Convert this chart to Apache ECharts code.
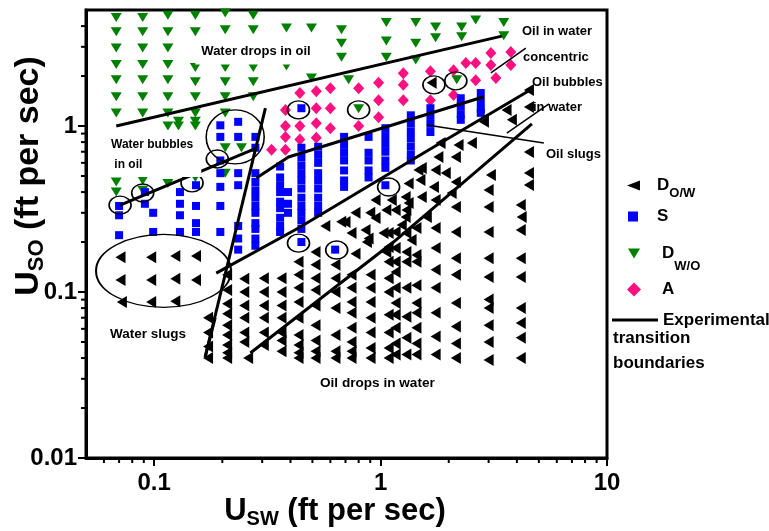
<!DOCTYPE html>
<html>
<head>
<meta charset="utf-8">
<script src="https://cdn.jsdelivr.net/npm/echarts@6/dist/echarts.min.js"></script>
<style>
html,body{margin:0;padding:0;background:#fff;}
#chart{width:769px;height:531px;}
</style>
</head>
<body>
<div id="chart"></div>
<script>
// Flow-pattern map: superficial water velocity (USW) vs superficial oil velocity (USO), ft/s

const X_MIN = 0.05, X_MAX = 10;
const Y_MIN = 0.01, Y_MAX = 5;

// Minor tick positions on each log axis
const xMinorTicks = [0.06, 0.07, 0.08, 0.09, 0.2, 0.3, 0.4, 0.5, 0.6, 0.7, 0.8, 0.9, 2, 3, 4, 5, 6, 7, 8, 9];
const yMinorTicks = [0.02, 0.03, 0.04, 0.05, 0.06, 0.07, 0.08, 0.09, 0.2, 0.3, 0.4, 0.5, 0.6, 0.7, 0.8, 0.9, 2, 3, 4];

// D_O/W : oil drops in water  [USW, USO]
const dowPoints = [
  [0.071,0.162],[0.097,0.162],[0.124,0.165],[0.153,0.165],
  [0.071,0.118],[0.097,0.118],[0.124,0.12],[0.153,0.118],
  [0.072,0.087],[0.097,0.087],[0.124,0.088],
  [0.173,0.07],[0.173,0.057],[0.173,0.047],[0.173,0.04],
  [0.21,0.127],[0.21,0.103],[0.21,0.085],[0.21,0.074],[0.21,0.063],[0.21,0.055],[0.21,0.048],[0.21,0.043],[0.21,0.04],
  [0.25,0.12],[0.25,0.1],[0.25,0.083],[0.25,0.07],[0.25,0.057],[0.25,0.05],
  [0.26,0.04],
  [0.305,0.121],[0.305,0.1],[0.305,0.083],[0.305,0.07],[0.305,0.057],[0.305,0.048],
  [0.365,0.121],[0.365,0.1],[0.365,0.083],[0.365,0.07],[0.365,0.057],[0.365,0.051],[0.365,0.044],
  [0.434,0.152],[0.434,0.127],[0.434,0.106],[0.434,0.087],[0.434,0.07],[0.434,0.055],[0.434,0.048],[0.434,0.043],[0.434,0.04],
  [0.516,0.174],[0.516,0.146],[0.516,0.121],[0.516,0.103],[0.516,0.083],[0.516,0.063],[0.516,0.051],[0.516,0.044],[0.516,0.04],
  [0.632,0.146],[0.632,0.121],[0.632,0.1],[0.632,0.08],[0.632,0.055],[0.632,0.044],[0.632,0.04],
  [0.744,0.127],[0.744,0.106],[0.744,0.087],[0.744,0.075],[0.744,0.061],[0.744,0.05],[0.744,0.044],[0.744,0.04],
  [0.903,0.127],[0.903,0.106],[0.903,0.087],[0.903,0.07],[0.903,0.057],[0.903,0.046],[0.903,0.04],
  [1.085,0.187],[1.085,0.152],[1.085,0.121],[1.085,0.1],[1.085,0.073],[1.085,0.057],[1.085,0.046],[1.085,0.04],
  [1.165,0.312],[1.165,0.23],[1.165,0.184],[1.165,0.152],[1.165,0.132],[1.165,0.106],[1.165,0.086],[1.165,0.073],[1.165,0.061],[1.165,0.049],[1.165,0.042],
  [1.3,0.312],[1.3,0.227],[1.3,0.174],[1.3,0.152],[1.3,0.106],[1.3,0.071],[1.3,0.053],[1.3,0.042],
  [1.44,0.243],[1.44,0.167],[1.44,0.152],[1.44,0.11],[1.44,0.086],[1.44,0.075],[1.44,0.061],[1.44,0.049],[1.44,0.042],
  [1.75,0.243],[1.75,0.184],[1.75,0.136],[1.75,0.106],[1.75,0.075],[1.75,0.054],[1.75,0.042],
  [2.15,0.325],[2.15,0.23],[2.15,0.16],[2.15,0.127],[2.15,0.086],[2.15,0.062],[2.15,0.049],[2.15,0.04],
  [3.0,0.325],[3.0,0.23],[3.0,0.16],[3.0,0.123],[3.0,0.09],[3.0,0.08],[3.0,0.063],[3.0,0.05],[3.0,0.039],
  [4.16,0.334],[4.16,0.236],[4.16,0.16],[4.16,0.123],[4.16,0.08],[4.16,0.065],[4.16,0.053],[4.16,0.04],
  [0.858,0.236],[0.744,0.227],[0.7,0.264],[0.885,0.21],[0.95,0.279],[1.06,0.312],[1.085,0.227],[1.29,0.283],
  [1.33,0.344],[1.6,0.283],[1.72,0.429],[1.75,0.358],[1.47,0.543],[1.75,0.543],[1.94,0.521],[1.8,0.651],
  [1.84,0.79],[2.15,0.651],[2.21,0.769],[2.06,0.395],[2.15,0.46],[2.53,0.79],[2.86,1.06],[3.0,0.412],
  [3.07,0.507],[3.6,1.25],[3.8,1.09],[4.52,1.65],[4.52,1.3],[4.52,0.697],[4.52,0.521],[4.52,0.441],[4.2,0.283],
  [0.57,0.25],[0.67,0.265],[0.775,0.3],[0.9,0.3],[0.95,0.358],[1.12,0.358],[1.29,0.373],[1.33,0.45],
  [1.52,0.558],[1.5,0.473],[1.52,0.373],[1.24,0.253],[1.03,0.227],[0.87,0.2],[0.775,0.17],[1.06,0.174],[1.37,0.206],
  [1.68,1.82]
];

// S : slug flow
const sPoints = [
  [0.07,0.33],[0.07,0.29],[0.07,0.22],
  [0.091,0.4],[0.091,0.34],
  [0.099,0.3],[0.099,0.23],
  [0.13,0.4],[0.13,0.34],[0.13,0.29],[0.13,0.23],
  [0.153,0.44],[0.153,0.33],[0.153,0.26],[0.153,0.23],
  [0.196,1.01],[0.196,0.86],[0.196,0.62],[0.196,0.52],[0.196,0.43],[0.196,0.33],[0.196,0.23],
  [0.235,1.06],[0.235,0.86],[0.235,0.52],[0.235,0.44],[0.235,0.25],[0.235,0.21],[0.235,0.18],
  [0.28,0.86],[0.28,0.74],[0.28,0.52],[0.28,0.46],[0.28,0.41],[0.28,0.37],[0.28,0.33],[0.28,0.3],[0.28,0.26],[0.28,0.24],[0.28,0.21],[0.28,0.19],
  [0.36,0.57],[0.36,0.49],[0.36,0.44],[0.36,0.4],[0.36,0.35],[0.36,0.32],[0.36,0.28],[0.36,0.25],[0.36,0.23],
  [0.39,0.4],[0.39,0.34],[0.39,0.3],
  [0.447,1.28],[0.447,0.74],[0.447,0.65],[0.447,0.58],[0.447,0.52],[0.447,0.47],[0.447,0.42],[0.447,0.37],[0.447,0.33],[0.447,0.3],[0.447,0.27],[0.447,0.24],[0.447,0.2],
  [0.53,0.75],[0.53,0.67],[0.53,0.6],[0.53,0.52],[0.53,0.47],[0.53,0.42],[0.53,0.37],[0.53,0.33],[0.53,0.3],
  [0.63,0.18],
  [0.69,0.86],[0.69,0.77],[0.69,0.69],[0.69,0.62],[0.69,0.54],[0.69,0.47],[0.69,0.43],
  [0.885,0.86],[0.885,0.69],[0.885,0.62],[0.885,0.54],[0.885,0.49],
  [1.05,0.97],[1.05,0.87],[1.05,0.78],[1.05,0.7],[1.05,0.62],[1.05,0.56],[1.05,0.44],
  [1.36,1.16],[1.36,1.04],[1.36,0.93],[1.36,0.84],[1.36,0.75],[1.36,0.67],[1.36,0.62],
  [1.66,1.28],[1.66,1.15],[1.66,1.03],[1.66,0.92],
  [2.26,1.47],[2.26,1.32],[2.26,1.18],[2.26,1.09],
  [2.77,1.58],[2.77,1.41],[2.77,1.27],[2.77,1.2]
];

// D_W/O : water drops in oil
const dwoPoints = [
  [0.068,4.5],[0.068,3.7],[0.068,2.95],[0.068,2.35],[0.068,1.9],[0.068,1.5],[0.068,1.2],[0.068,0.46],[0.068,0.4],
  [0.089,4.5],[0.089,3.7],[0.089,2.95],[0.089,2.35],[0.089,1.9],[0.089,1.5],[0.089,1.2],[0.089,0.47],[0.089,0.41],
  [0.115,4.65],[0.115,3.7],[0.115,2.95],[0.115,2.35],[0.115,1.9],[0.115,1.5],[0.115,1.2],[0.115,1.0],[0.115,0.45],
  [0.128,1.07],[0.128,1.0],
  [0.152,4.65],[0.152,3.7],[0.152,2.25],[0.152,1.85],[0.152,1.5],[0.152,1.2],[0.152,1.07],[0.152,1.0],[0.152,0.49],
  [0.206,4.8],[0.206,3.8],[0.206,2.25],[0.206,1.85],[0.206,1.5],[0.206,1.2],[0.206,0.74],[0.206,0.52],
  [0.243,0.74],
  [0.274,4.65],[0.274,3.8],[0.274,2.25],[0.274,1.85],[0.274,1.5],
  [0.384,3.9],[0.384,2.3],
  [0.495,3.9],[0.495,1.95],
  [0.672,3.8],[0.672,3.15],[0.672,2.6],
  [0.722,1.9],[0.8,1.27],
  [1.06,4.2],[1.06,3.25],[1.06,2.6],
  [1.43,4.2],[1.43,3.15],[1.43,2.5],
  [1.75,3.95],[1.75,3.4],
  [2.17,1.9],
  [2.28,3.95],[2.28,3.45],
  [2.63,4.35],
  [3.5,4.2],[3.5,3.5]
];

// A : annular / concentric oil-in-water
const aPoints = [
  [0.33,0.72],
  [0.38,1.25],[0.38,1.0],[0.38,0.86],[0.38,0.72],
  [0.44,1.58],[0.44,1.0],[0.44,0.83],
  [0.52,1.62],[0.52,1.28],[0.52,1.04],[0.52,0.85],
  [0.6,1.69],[0.6,1.28],[0.6,0.97],
  [0.8,1.69],[0.8,1.0],
  [0.98,1.82],[0.98,1.43],[0.98,1.13],
  [1.26,2.08],[1.26,1.77],[1.26,1.43],
  [1.66,2.14],[1.66,1.43],
  [2.1,2.17],[2.1,1.54],
  [2.38,2.4],
  [2.63,2.4],[2.63,1.89],
  [3.07,2.75],[3.07,2.33],
  [3.23,1.95],
  [3.76,2.79],[3.76,2.33]
];

// Experimental transition boundaries (polylines)
const boundaryWDO = [[0.068,1.0],[3.43,3.48]];
const boundaryWBO = [[0.0707,0.334],[0.283,0.737]];
const boundarySteep = [[0.31,1.28],[0.168,0.0406]];
const boundarySteepTip = [[0.168,0.0406],[0.186,0.07]];
const boundarySDow = [[0.188,0.13],[0.434,0.243],[1.63,0.717],[4.66,1.67]];
const boundarySA = [[0.283,0.486],[0.392,0.651],[2.86,1.5]];
const boundaryDowLower = [[0.266,0.0429],[1.14,0.2],[4.66,1.03]];

// Annotation arrows [from, to]
const arrowLines = [
  [[4.38,2.95],[3.07,2.09]],
  [[5.54,1.36],[3.61,0.907]],
  [[5.26,0.79],[1.6,1.014]]
];

// Ringed observations and region ellipses
const ringCenters = [
  [0.0707,0.334],[0.089,0.395],[0.147,0.454],[0.19,0.633],[0.434,1.25],[0.8,1.25],
  [1.72,1.77],[2.15,1.87],[0.434,0.197],[0.64,0.179],[1.085,0.429]
];
const slugEllipse = [[0.11,0.134]];
const bubbleEllipse = [[0.228,0.86]];

const FONT = '"Liberation Sans", Arial, Helvetica, sans-serif';
const BOUNDARY = 'Experimental transition boundaries';

// Legend glyphs for the rotated triangle markers
const ICON_LEFT_TRIANGLE = 'path://M0,5L13,0L13,10Z';
const ICON_DOWN_TRIANGLE = 'path://M0,0L12,0L6,10Z';

function boundarySeries(data) {
  return {
    name: BOUNDARY, type: 'line', data: data, symbol: 'none', showSymbol: false,
    lineStyle: { color: '#000', width: 3 }, itemStyle: { color: '#000', opacity: 1 },
    z: 5, silent: true, animation: false
  };
}

function ringSeries(data, size) {
  return {
    type: 'scatter', data: data, symbol: 'circle', symbolSize: size,
    itemStyle: { color: 'rgba(0,0,0,0)', borderColor: '#000', borderWidth: 1.5, opacity: 1 },
    z: 6, silent: true, animation: false
  };
}

function tickSeries(data, horizontal) {
  return {
    type: 'custom', coordinateSystem: 'cartesian2d', silent: true, clip: false, z: 10,
    animation: false, data: data,
    renderItem: function (params, api) {
      const p = api.coord([api.value(0), api.value(1)]);
      const shape = horizontal
        ? { x1: p[0] - 5, y1: p[1], x2: p[0], y2: p[1] }
        : { x1: p[0], y1: p[1], x2: p[0], y2: p[1] + 5 };
      return { type: 'line', shape: shape, style: { stroke: '#000', lineWidth: 2 } };
    }
  };
}

const legendText = {
  color: '#000', fontFamily: FONT, fontWeight: 'bold', fontSize: 17,
  rich: {
    m: { fontFamily: FONT, fontWeight: 'bold', fontSize: 17, lineHeight: 29, verticalAlign: 'middle', color: '#000', padding: [0, 0, 0, 12] },
    ms: { fontFamily: FONT, fontWeight: 'bold', fontSize: 17, lineHeight: 29, verticalAlign: 'middle', color: '#000', padding: [0, 0, 0, 14] },
    m2: { fontFamily: FONT, fontWeight: 'bold', fontSize: 17, lineHeight: 39, verticalAlign: 'middle', color: '#000', padding: [0, 0, 0, 17] },
    ma: { fontFamily: FONT, fontWeight: 'bold', fontSize: 17, lineHeight: 29, verticalAlign: 'middle', color: '#000', padding: [0, 0, 0, 16] },
    s: { fontFamily: FONT, fontWeight: 'bold', fontSize: 13, lineHeight: 13, verticalAlign: 'bottom', color: '#000' }
  }
};
const legendLabels = {
  'D_O/W': '{m|D}{s|O/W}',
  'S': '{ms|S}',
  'D_W/O': '{m2|D}{s|W/O}',
  'A': '{ma|A}'
};
function markerLegend(item, left, top, w, h) {
  return {
    data: [item], left: left, top: top, orient: 'vertical', padding: 0,
    itemWidth: w, itemHeight: h, itemGap: 0, selectedMode: false,
    formatter: function (n) { return legendLabels[n]; },
    textStyle: legendText
  };
}

const chart = echarts.init(document.getElementById('chart'), null, { renderer: 'canvas' });

chart.setOption({
  animation: false,
  backgroundColor: '#fff',
  grid: {
    left: 86, right: 162, top: 10, bottom: 73,
    show: true, borderColor: '#000', borderWidth: 3, backgroundColor: 'rgba(0,0,0,0)',
    containLabel: false, outerBoundsMode: 'none'
  },
  xAxis: {
    type: 'log', logBase: 10, min: X_MIN, max: X_MAX,
    axisLine: { show: true, lineStyle: { color: '#000', width: 3 } },
    axisTick: { show: true, inside: false, length: 8, lineStyle: { color: '#000', width: 2 } },
    axisLabel: { showMinLabel: false, color: '#000', fontFamily: FONT, fontWeight: 'bold', fontSize: 24, margin: 13 },
    splitLine: { show: false }, minorTick: { show: false }
  },
  yAxis: {
    type: 'log', logBase: 10, min: Y_MIN, max: Y_MAX,
    axisLine: { show: true, lineStyle: { color: '#000', width: 3 } },
    axisTick: { show: true, inside: false, length: 8, lineStyle: { color: '#000', width: 2 } },
    axisLabel: { showMaxLabel: false, color: '#000', fontFamily: FONT, fontWeight: 'bold', fontSize: 24, margin: 9 },
    splitLine: { show: false }, minorTick: { show: false }
  },
  legend: [
    markerLegend({ name: 'D_O/W', icon: ICON_LEFT_TRIANGLE }, 627, 177, 13, 10),
    markerLegend({ name: 'S' }, 628, 208, 10, 10),
    markerLegend({ name: 'D_W/O', icon: ICON_DOWN_TRIANGLE }, 628, 245, 12, 10),
    markerLegend({ name: 'A' }, 627, 281, 14, 14),
    {
      data: [{ name: BOUNDARY, icon: 'rect' }], left: 612, top: 311.5, padding: 0, itemWidth: 46, itemHeight: 3,
      selectedMode: false, formatter: function () { return 'Experimental'; },
      itemStyle: { color: '#000', opacity: 1 },
      textStyle: { color: '#000', fontFamily: FONT, fontWeight: 'bold', fontSize: 17 }
    }
  ],
  series: [
    {
      name: 'D_O/W', type: 'scatter', data: dowPoints, symbol: 'triangle', symbolRotate: 90,
      symbolSize: [12, 10], itemStyle: { color: '#000', opacity: 1 }, z: 2, silent: true
    },
    {
      name: 'S', type: 'scatter', data: sPoints, symbol: 'rect',
      symbolSize: [8, 8], itemStyle: { color: '#0000ff', opacity: 1 }, z: 3, silent: true
    },
    {
      name: 'D_W/O', type: 'scatter', data: dwoPoints, symbol: 'triangle', symbolRotate: 180,
      symbolSize: [11, 9], itemStyle: { color: '#008000', opacity: 1 }, z: 2, silent: true
    },
    {
      name: 'A', type: 'scatter', data: aPoints, symbol: 'diamond',
      symbolSize: [11, 12], itemStyle: { color: '#ff0f80', opacity: 1 }, z: 2, silent: true
    },
    boundarySeries(boundaryWDO),
    boundarySeries(boundaryWBO),
    boundarySeries(boundarySteep),
    boundarySeries(boundarySteepTip),
    boundarySeries(boundarySDow),
    boundarySeries(boundarySA),
    boundarySeries(boundaryDowLower),
    ringSeries(ringCenters, [22, 18]),
    ringSeries(slugEllipse, [135, 73]),
    ringSeries(bubbleEllipse, [58, 54]),
    {
      type: 'scatter', data: [], silent: true, z: 7,
      markLine: {
        silent: true, animation: false,
        symbol: ['none', 'arrow'], symbolSize: [0, 9],
        lineStyle: { color: '#000', width: 1.5, type: 'solid', opacity: 1 },
        label: { show: false },
        emphasis: { disabled: true },
        data: arrowLines.map(function (a) { return [{ coord: a[0] }, { coord: a[1] }]; })
      }
    },
    tickSeries(xMinorTicks.map(function (v) { return [v, Y_MIN]; }), false),
    tickSeries(yMinorTicks.map(function (v) { return [X_MIN, v]; }), true)
  ],
  graphic: [
    {
      type: 'text', x: 256, y: 51, z: 100,
      style: {
        text: 'Water drops in oil', fill: '#000', font: 'bold 13px ' + FONT,
        align: 'center', verticalAlign: 'middle', backgroundColor: '#fff', padding: [7, 6]
      }
    },
    {
      type: 'text', x: 103, y: 130, z: 100,
      style: {
        text: 'Water bubbles\n in oil', fill: '#000', font: 'bold 12px ' + FONT, lineHeight: 20,
        align: 'left', verticalAlign: 'top', backgroundColor: '#fff', padding: [5, 8, 2, 8]
      }
    },
    { type: 'text', x: 110, y: 334, z: 100, style: { text: 'Water slugs', fill: '#000', font: 'bold 13.5px ' + FONT, align: 'left', verticalAlign: 'middle' } },
    { type: 'text', x: 320, y: 383, z: 100, style: { text: 'Oil drops in water', fill: '#000', font: 'bold 13.6px ' + FONT, align: 'left', verticalAlign: 'middle' } },
    { type: 'text', x: 522, y: 31, z: 100, style: { text: 'Oil in water', fill: '#000', font: 'bold 13px ' + FONT, align: 'left', verticalAlign: 'middle' } },
    { type: 'text', x: 523, y: 57, z: 100, style: { text: 'concentric', fill: '#000', font: 'bold 13px ' + FONT, align: 'left', verticalAlign: 'middle' } },
    { type: 'text', x: 532, y: 82, z: 100, style: { text: 'Oil bubbles', fill: '#000', font: 'bold 13px ' + FONT, align: 'left', verticalAlign: 'middle' } },
    { type: 'text', x: 533, y: 107, z: 4, style: { text: 'in water', fill: '#000', font: 'bold 13px ' + FONT, align: 'left', verticalAlign: 'middle' } },
    { type: 'text', x: 546, y: 154, z: 100, style: { text: 'Oil slugs', fill: '#000', font: 'bold 13px ' + FONT, align: 'left', verticalAlign: 'middle' } },
    { type: 'text', x: 613, y: 338, z: 100, style: { text: 'transition', fill: '#000', font: 'bold 17px ' + FONT, align: 'left', verticalAlign: 'middle' } },
    { type: 'text', x: 613, y: 363, z: 100, style: { text: 'boundaries', fill: '#000', font: 'bold 17px ' + FONT, align: 'left', verticalAlign: 'middle' } },
    {
      type: 'text', x: 335, y: 511, z: 100,
      style: {
        text: '{u|U}{s|SW}{u| (ft per sec)}', fill: '#000', align: 'center', verticalAlign: 'middle',
        font: 'bold 31px ' + FONT,
        rich: {
          u: { fontFamily: FONT, fontWeight: 'bold', fontSize: 31, lineHeight: 37, verticalAlign: 'middle', fill: '#000' },
          s: { fontFamily: FONT, fontWeight: 'bold', fontSize: 20, lineHeight: 20, verticalAlign: 'bottom', fill: '#000' }
        }
      }
    },
    {
      type: 'text', x: 29, y: 176, rotation: Math.PI / 2, z: 100,
      style: {
        text: '{u|U}{s|SO}{u| (ft per sec)}', fill: '#000', align: 'center', verticalAlign: 'middle',
        font: 'bold 34px ' + FONT,
        rich: {
          u: { fontFamily: FONT, fontWeight: 'bold', fontSize: 34, lineHeight: 38, verticalAlign: 'middle', fill: '#000' },
          s: { fontFamily: FONT, fontWeight: 'bold', fontSize: 22, lineHeight: 22, verticalAlign: 'bottom', fill: '#000' }
        }
      }
    }
  ]
});
</script>
</body>
</html>
